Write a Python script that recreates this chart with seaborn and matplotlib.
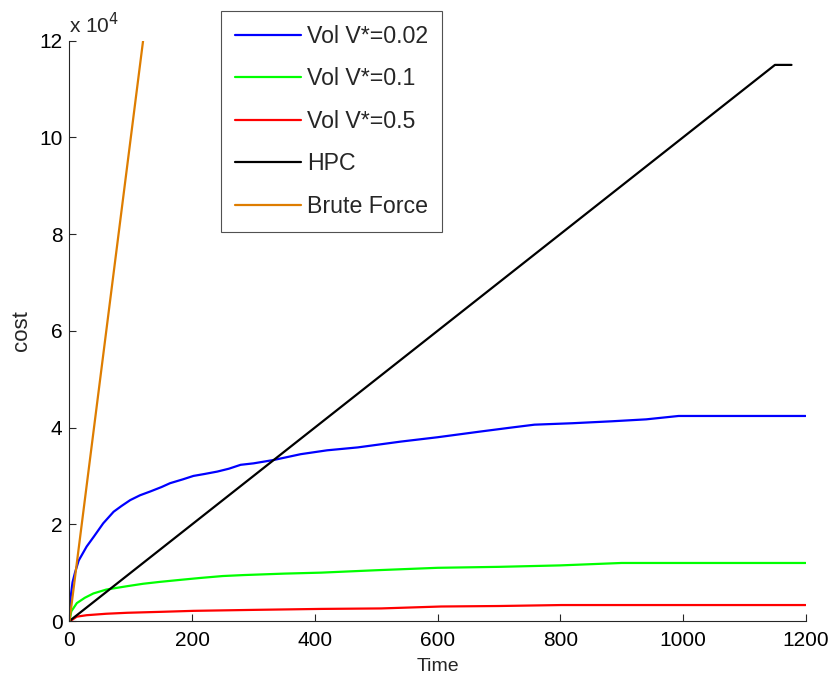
import matplotlib
matplotlib.use('Agg')
import matplotlib.pyplot as plt
import pandas as pd
import seaborn as sns
from matplotlib.ticker import FuncFormatter

# values (cost in units, time in seconds)
vol002_t = [0, 2, 5, 9, 15, 28, 40, 55, 72, 85, 99, 115, 132, 150, 164, 185, 202, 220, 241, 260, 279,
            300, 333, 377, 420, 470, 540, 600, 671, 720, 758, 820, 884, 940, 993, 1200]
vol002_c = [0, 5000, 8000, 10000, 12500, 15400, 17500, 20200, 22600, 23800, 25000, 26000, 26800, 27700,
            28500, 29300, 30000, 30400, 30900, 31500, 32300, 32600, 33300, 34500, 35300, 35900, 37100,
            38000, 39200, 40000, 40600, 40900, 41300, 41700, 42400, 42400]
vol01_t = [0, 3, 12, 25, 39, 60, 94, 120, 148, 180, 213, 250, 284, 350, 410, 500, 600, 700, 800, 900, 1200]
vol01_c = [0, 2000, 3700, 4800, 5700, 6500, 7200, 7700, 8100, 8500, 8900, 9300, 9500, 9800, 10000, 10500,
           11000, 11200, 11500, 12000, 12000]
vol05_t = [0, 5, 12, 28, 60, 94, 150, 202, 300, 410, 508, 606, 700, 802, 1200]
vol05_c = [0, 300, 900, 1200, 1500, 1700, 1900, 2100, 2300, 2500, 2600, 3000, 3100, 3300, 3300]
hpc_t = [0, 1150, 1177]
hpc_c = [0, 115000, 115000]
brute_t = [0, 120]
brute_c = [0, 120000]

labels = ['Vol V*=0.02', 'Vol V*=0.1', 'Vol V*=0.5', 'HPC', 'Brute Force']
colors = ['#0000FF', '#00FF00', '#FF0000', '#000000', '#DE7D00']
series = [(vol002_t, vol002_c), (vol01_t, vol01_c), (vol05_t, vol05_c), (hpc_t, hpc_c), (brute_t, brute_c)]

sns.set_style('white', {'xtick.direction': 'in', 'ytick.direction': 'in'})
plt.rcParams['font.family'] = ['Liberation Sans', 'DejaVu Sans']

fig = plt.figure(figsize=(8.35, 6.81), dpi=100)
ax = fig.add_axes([0.0832, 0.0881, 0.8816, 0.8521])

for (t, c), lab, col in zip(series, labels, colors):
    df = pd.DataFrame({'Time': t, 'cost': c})
    sns.lineplot(data=df, x='Time', y='cost', ax=ax, color=col, linewidth=1.6,
                 estimator=None, sort=False, label=lab)

ax.set_xlim(0, 1200)
ax.set_ylim(0, 120000)
ax.set_xticks(range(0, 1201, 200))
ax.set_yticks(range(0, 120001, 20000))
ax.yaxis.set_major_formatter(FuncFormatter(lambda v, p: f'{v / 1e4:g}'))
ax.tick_params(labelsize=15, length=5, width=0.8, colors='#262626', labelcolor='black',
               top=False, right=False, bottom=True, left=True)
ax.tick_params(axis='x', pad=7)
ax.tick_params(axis='y', pad=5)
ax.set_xlabel('Time', fontsize=14, labelpad=6)
ax.set_ylabel('cost', fontsize=16, labelpad=5)
sns.despine(ax=ax)
for s in ['left', 'bottom']:
    ax.spines[s].set_color('#262626')
    ax.spines[s].set_linewidth(0.8)

ax.text(0.0, 1.006, r'x 10$^{4}$', transform=ax.transAxes, fontsize=15, ha='left', va='bottom')

handles, labs = ax.get_legend_handles_labels()
ax.get_legend().remove()
leg = fig.legend(handles, labs, loc='upper left', bbox_to_anchor=(0.2647, 0.9838),
                 bbox_transform=fig.transFigure, borderaxespad=0, fontsize=16.7, frameon=True,
                 fancybox=False, edgecolor='#262626', handlelength=2.85, handletextpad=0.25,
                 labelspacing=0.84, borderpad=0.6)
leg.get_frame().set_linewidth(0.8)

plt.savefig('out.png', dpi=100)
